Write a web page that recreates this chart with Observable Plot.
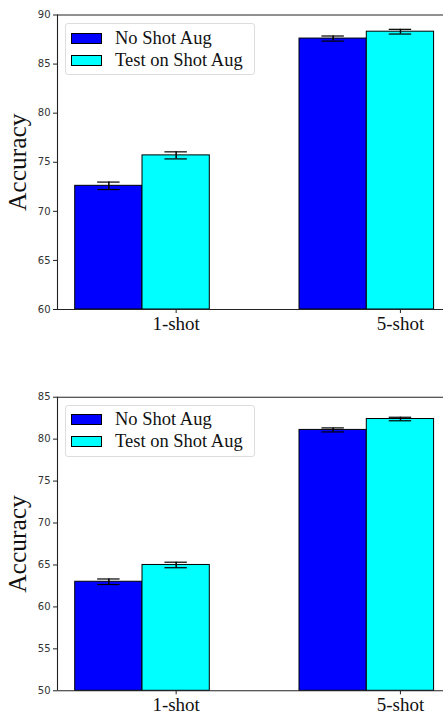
<!DOCTYPE html>
<html>
<head>
<meta charset="utf-8">
<script src="https://cdn.jsdelivr.net/npm/d3@7"></script>
<script src="https://cdn.jsdelivr.net/npm/@observablehq/plot@0.6"></script>
<style>
  html, body { margin: 0; padding: 0; background: #fff; }
  body { width: 443px; height: 715px; overflow: hidden; }
  .panel { position: relative; width: 443px; }
  .panel svg { display: block; }
  .legend {
    position: absolute; left: 65px; width: 190px;
    border: 1px solid #ddd; border-radius: 3px; background: rgba(255,255,255,0.8);
    font-family: "Liberation Serif", serif; font-size: 18.5px; color: #111;
    padding: 3px 0 3px 0; box-sizing: border-box;
  }
  .legend .row { display: flex; align-items: center; height: 22px; }
  .legend .sw { width: 31px; height: 11px; border: 1px solid #000; margin-left: 5px; margin-right: 13px; box-sizing: border-box; }
</style>
</head>
<body>
<div id="root"></div>
<script>
// ---- data ----
const shots = ["1-shot", "5-shot"];
const seriesNames = ["No Shot Aug", "Test on Shot Aug"];
const seriesColors = ["#0000ff", "#00ffff"];

// top panel
const top_noAug = [72.6, 87.6];
const top_noAugErr = [0.38, 0.26];
const top_testAug = [75.7, 88.3];
const top_testAugErr = [0.36, 0.24];
const top_yTicks = [60, 65, 70, 75, 80, 85, 90];

// bottom panel
const bot_noAug = [63.0, 81.1];
const bot_noAugErr = [0.33, 0.24];
const bot_testAug = [65.0, 82.4];
const bot_testAugErr = [0.33, 0.21];
const bot_yTicks = [50, 55, 60, 65, 70, 75, 80, 85];

// ---- layout constants ----
const barWidth = 0.3;
const capHalf = 0.05;
const xDomain = [-0.229, 1.492];
const serif = "Liberation Serif";

function buildPanel({vals, errs, yTicks, height, marginTop, marginBottom, legendTop}) {
  const yMin = yTicks[0], yMax = yTicks[yTicks.length - 1];
  const rows = [];
  vals.forEach((arr, s) => {
    arr.forEach((v, i) => {
      const cx = i + s * barWidth;
      rows.push({series: seriesNames[s], color: seriesColors[s], cx, v, e: errs[s][i]});
    });
  });
  const plot = Plot.plot({
    width: 443,
    height,
    marginLeft: 57,
    marginRight: 0,
    marginTop,
    marginBottom,
    style: {background: "#fff", overflow: "visible"},
    x: {domain: xDomain, axis: null},
    y: {domain: [yMin, yMax], axis: null},
    marks: [
      Plot.rectY(rows, {
        x1: d => d.cx - barWidth / 2, x2: d => d.cx + barWidth / 2,
        y1: yMin, y2: "v", fill: "color", stroke: "#000", strokeWidth: 1
      }),
      Plot.ruleX(rows, {x: "cx", y1: d => d.v - d.e, y2: d => d.v + d.e, stroke: "#000", strokeWidth: 1.5}),
      Plot.ruleY(rows, {y: d => d.v - d.e, x1: d => d.cx - capHalf, x2: d => d.cx + capHalf, stroke: "#000", strokeWidth: 1.2}),
      Plot.ruleY(rows, {y: d => d.v + d.e, x1: d => d.cx - capHalf, x2: d => d.cx + capHalf, stroke: "#000", strokeWidth: 1.2}),
      // spines
      Plot.ruleY([yMin], {stroke: "#222", strokeWidth: 1.1}),
      Plot.ruleY([yMax], {stroke: "#222", strokeWidth: 1.1}),
      Plot.ruleX([xDomain[0]], {stroke: "#222", strokeWidth: 1.1}),
      // y axis
      Plot.axisY({ticks: yTicks, tickSize: 4, tickPadding: 3, fontSize: 10, fontFamily: "DejaVu Sans", color: "#333", stroke: "#222", label: null}),
      // x axis
      Plot.axisX({ticks: shots.map((s, i) => i + barWidth), tickFormat: (d, i) => shots[i], tickSize: 4, tickPadding: 3, fontSize: 19, fontFamily: serif, color: "#111", stroke: "#222", label: null}),
      // y label
      Plot.text(["Accuracy"], {frameAnchor: "left", dx: -40, rotate: -90, textAnchor: "middle", lineAnchor: "middle", fontSize: 25.5, fontFamily: serif, fill: "#111"})
    ]
  });
  const wrap = document.createElement("div");
  wrap.className = "panel";
  wrap.appendChild(plot);
  const legend = document.createElement("div");
  legend.className = "legend";
  legend.style.top = legendTop + "px";
  seriesNames.forEach((name, s) => {
    const row = document.createElement("div");
    row.className = "row";
    const sw = document.createElement("span");
    sw.className = "sw";
    sw.style.background = seriesColors[s];
    const label = document.createElement("span");
    label.textContent = name;
    row.appendChild(sw);
    row.appendChild(label);
    legend.appendChild(row);
  });
  wrap.appendChild(legend);
  return wrap;
}

const root = document.getElementById("root");
root.appendChild(buildPanel({
  vals: [top_noAug, top_testAug], errs: [top_noAugErr, top_testAugErr], yTicks: top_yTicks,
  height: 350, marginTop: 14.5, marginBottom: 41, legendTop: 23
}));
root.appendChild(buildPanel({
  vals: [bot_noAug, bot_testAug], errs: [bot_noAugErr, bot_testAugErr], yTicks: bot_yTicks,
  height: 365, marginTop: 46.7, marginBottom: 24.7, legendTop: 54.5
}));
</script>
</body>
</html>
